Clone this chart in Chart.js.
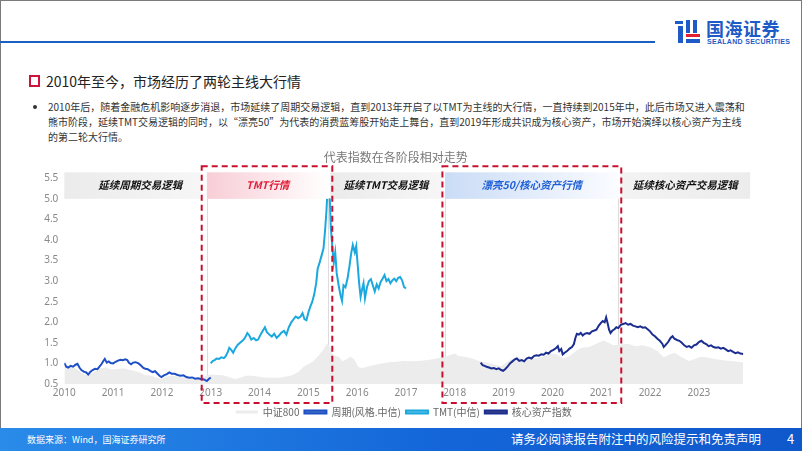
<!DOCTYPE html>
<html>
<head>
<meta charset="utf-8">
<script src="https://cdn.jsdelivr.net/npm/chart.js@4"></script>
<style>
  html, body { margin: 0; padding: 0; }
  body { width: 802px; height: 451px; position: relative; overflow: hidden; background: #fff;
         font-family: "Noto Sans CJK SC", "Noto Sans", sans-serif; }
  .frame { position: absolute; left: 0; top: 0; width: 800px; height: 451px; border: 1px solid #7a7a7a; border-bottom: none; box-sizing: content-box; }
  .topline { position: absolute; left: 0; top: 41px; width: 655px; height: 2px; background: #1c5fc2; }
  .logo-cn { position: absolute; left: 706px; top: 15px; font-size: 18px; line-height: 26px; font-weight: bold; color: #1e5bc6; letter-spacing: 0.5px; }
  .logo-en { position: absolute; left: 707px; top: 38px; font-family: "Liberation Sans", sans-serif; font-size: 7px; line-height: 8px; font-weight: bold; color: #1e5bc6; letter-spacing: 0.3px; }
  .logo-icon { position: absolute; left: 674px; top: 19px; }
  .sq { position: absolute; left: 29px; top: 75px; width: 7px; height: 8px; border: 2px solid #cf1239; }
  .heading { position: absolute; left: 46px; top: 71px; font-size: 14px; line-height: 20px; color: #222; white-space: nowrap; }
  .dot { position: absolute; left: 33px; top: 105px; width: 4px; height: 4px; border-radius: 50%; background: #333; }
  .body { position: absolute; left: 48px; top: 99px; font-size: 10px; line-height: 15px; color: #333; white-space: nowrap; }
  .footer { position: absolute; left: 0; top: 428px; width: 802px; height: 23px; background: linear-gradient(90deg, #2a8be9, #1466d8 55%, #0f58cc); }
  .src { position: absolute; left: 27px; top: 433px; font-size: 9px; line-height: 13px; color: #fff; }
  .disc { position: absolute; left: 511px; top: 430px; font-size: 12.5px; line-height: 18px; color: #fff; }
  .page { position: absolute; left: 787px; top: 430px; font-size: 13px; line-height: 18px; color: #fff; }
  canvas { position: absolute; left: 0; top: 0; }
</style>
</head>
<body>
<div class="frame"></div>
<div class="topline"></div>
<svg class="logo-icon" width="28" height="26" viewBox="0 0 28 26">
  <rect x="1" y="2" width="8" height="3" fill="#1e5bc6"/>
  <rect x="4" y="7" width="5" height="17" fill="#1e5bc6"/>
  <rect x="12" y="1" width="4" height="13" fill="#1e5bc6"/>
  <rect x="19" y="1" width="4" height="13" fill="#1e5bc6"/>
  <rect x="12" y="15" width="14" height="3" fill="#e0202e"/>
  <rect x="12" y="20" width="14" height="4" fill="#1e5bc6"/>
</svg>
<div class="logo-cn">国海证券</div>
<div class="logo-en">SEALAND SECURITIES</div>

<div class="sq"></div>
<div class="heading">2010年至今，市场经历了两轮主线大行情</div>
<div class="dot"></div>
<div class="body">2010年后，随着金融危机影响逐步消退，市场延续了周期交易逻辑，直到2013年开启了以TMT为主线的大行情，一直持续到2015年中，此后市场又进入震荡和<br>熊市阶段，延续TMT交易逻辑的同时，以“漂亮50”为代表的消费蓝筹股开始走上舞台，直到2019年形成共识成为核心资产，市场开始演绎以核心资产为主线<br>的第二轮大行情。</div>

<div class="footer"></div>
<div class="src">数据来源：Wind，国海证券研究所</div>
<div class="disc">请务必阅读报告附注中的风险提示和免责声明</div>
<div class="page">4</div>

<canvas id="chart" width="802" height="451"></canvas>

<script>
// 中证800 (relative, 2010 = 1)
const csiYears = [2010.00,2010.10,2010.20,2010.30,2010.42,2010.52,2010.62,2010.75,2010.85,2010.95,
  2011.07,2011.20,2011.30,2011.42,2011.55,2011.65,2011.78,2011.90,2012.00,2012.10,2012.20,2012.32,
  2012.45,2012.58,2012.70,2012.80,2012.90,2013.00,2013.12,2013.25,2013.40,2013.50,2013.60,2013.72,
  2013.85,2013.95,2014.10,2014.25,2014.40,2014.55,2014.68,2014.80,2014.90,2015.00,2015.10,2015.20,
  2015.30,2015.38,2015.44,2015.50,2015.56,2015.62,2015.70,2015.78,2015.86,2015.94,2016.02,2016.10,
  2016.20,2016.35,2016.50,2016.65,2016.80,2016.95,2017.10,2017.25,2017.40,2017.55,2017.70,2017.85,
  2018.00,2018.08,2018.20,2018.35,2018.50,2018.65,2018.80,2018.95,2019.10,2019.25,2019.40,2019.55,
  2019.70,2019.85,2019.95,2020.10,2020.22,2020.35,2020.50,2020.60,2020.75,2020.90,2021.05,2021.15,
  2021.25,2021.40,2021.55,2021.70,2021.85,2022.00,2022.15,2022.28,2022.40,2022.50,2022.65,2022.80,
  2022.90,2023.05,2023.20,2023.35,2023.50,2023.65,2023.80,2023.91];
const csiValues = [1.00,0.92,0.90,0.82,0.72,0.74,0.80,0.88,0.90,0.86,
  0.86,0.88,0.86,0.82,0.78,0.72,0.70,0.66,0.63,0.68,0.70,0.68,
  0.66,0.63,0.63,0.62,0.70,0.73,0.72,0.71,0.66,0.62,0.65,0.70,
  0.70,0.68,0.66,0.65,0.65,0.68,0.72,0.80,0.92,0.98,1.05,1.18,
  1.32,1.48,1.42,1.22,1.18,1.16,1.05,1.10,1.16,1.10,0.92,0.88,
  0.92,0.96,1.00,1.03,1.04,1.06,1.05,1.06,1.08,1.10,1.14,1.18,
  1.24,1.18,1.16,1.12,1.06,1.02,0.98,0.93,1.06,1.16,1.10,1.12,
  1.14,1.18,1.24,1.22,1.12,1.18,1.32,1.38,1.40,1.48,1.56,1.50,
  1.44,1.46,1.48,1.42,1.44,1.40,1.30,1.15,1.22,1.26,1.15,1.06,
  1.10,1.16,1.14,1.10,1.08,1.06,1.04,1.02];

// 周期(风格.中信)
const cycleYears = [2010.00,2010.04,2010.08,2010.13,2010.18,2010.23,2010.27,2010.31,2010.35,2010.40,
  2010.45,2010.49,2010.53,2010.58,2010.63,2010.68,2010.72,2010.76,2010.80,2010.83,2010.87,2010.91,
  2010.95,2011.00,2011.05,2011.10,2011.15,2011.20,2011.25,2011.29,2011.33,2011.37,2011.41,2011.46,
  2011.52,2011.57,2011.62,2011.66,2011.71,2011.76,2011.81,2011.86,2011.90,2011.95,2011.99,2012.04,
  2012.10,2012.15,2012.20,2012.26,2012.32,2012.38,2012.44,2012.50,2012.56,2012.62,2012.68,2012.74,
  2012.80,2012.86,2012.92,2012.96,2013.00];
const cycleValues = [1.01,0.92,0.90,0.94,0.92,0.97,0.99,0.90,0.84,0.80,
  0.78,0.73,0.79,0.84,0.87,0.86,0.92,0.98,1.06,1.11,1.02,1.05,
  1.01,1.00,1.04,1.07,1.09,1.08,1.10,1.08,1.01,0.98,1.02,1.03,
  1.00,0.95,0.89,0.87,0.86,0.82,0.79,0.81,0.76,0.70,0.67,0.71,
  0.74,0.78,0.75,0.75,0.72,0.70,0.71,0.67,0.65,0.66,0.63,0.64,
  0.62,0.61,0.57,0.62,0.66];

// TMT(中信)
const tmtYears = [2013.00,2013.04,2013.08,2013.12,2013.17,2013.22,2013.27,2013.31,2013.35,2013.38,
  2013.42,2013.46,2013.50,2013.55,2013.60,2013.65,2013.70,2013.75,2013.79,2013.83,2013.88,2013.93,
  2013.97,2014.02,2014.07,2014.11,2014.15,2014.20,2014.25,2014.30,2014.35,2014.40,2014.45,2014.50,
  2014.55,2014.60,2014.65,2014.70,2014.74,2014.79,2014.84,2014.88,2014.92,2014.96,2015.00,2015.04,
  2015.08,2015.12,2015.16,2015.19,2015.23,2015.27,2015.31,2015.34,2015.37,2015.40,2015.43,2015.46,
  2015.49,2015.52,2015.55,2015.58,2015.62,2015.66,2015.69,2015.72,2015.76,2015.80,2015.84,2015.88,
  2015.91,2015.95,2015.98,2016.01,2016.04,2016.07,2016.10,2016.13,2016.16,2016.20,2016.24,2016.28,
  2016.32,2016.36,2016.40,2016.44,2016.48,2016.52,2016.56,2016.60,2016.64,2016.68,2016.72,2016.76,
  2016.80,2016.84,2016.88,2016.92,2016.96,2017.00];
const tmtValues = [1.00,1.06,1.08,1.12,1.11,1.15,1.13,1.18,1.28,1.38,
  1.33,1.26,1.36,1.45,1.50,1.55,1.62,1.74,1.68,1.58,1.62,1.56,
  1.58,1.70,1.80,1.88,1.76,1.70,1.65,1.72,1.62,1.68,1.75,1.79,
  1.70,1.88,2.00,2.08,2.14,2.10,2.14,2.22,2.08,2.05,2.24,2.38,
  2.50,2.68,2.95,3.30,3.45,3.62,3.80,4.20,4.70,5.40,5.30,4.30,
  3.85,3.45,3.70,3.20,2.90,2.65,2.52,2.90,2.85,3.05,3.35,3.70,
  3.88,3.70,3.85,3.40,2.95,2.62,2.80,2.95,2.58,2.85,3.00,3.05,
  2.90,2.75,2.92,2.82,2.98,3.06,3.15,3.00,3.05,2.95,3.02,3.06,
  3.00,3.08,3.10,3.02,2.86,2.82];

// 核心资产指数
const coreYears = [2018.53,2018.57,2018.61,2018.65,2018.70,2018.75,2018.80,2018.85,2018.90,2018.95,
  2018.99,2019.03,2019.08,2019.13,2019.18,2019.23,2019.27,2019.32,2019.37,2019.42,2019.47,2019.52,
  2019.57,2019.62,2019.67,2019.72,2019.77,2019.82,2019.87,2019.92,2019.97,2020.02,2020.07,2020.11,
  2020.14,2020.18,2020.21,2020.25,2020.30,2020.35,2020.40,2020.44,2020.47,2020.50,2020.54,2020.58,
  2020.62,2020.66,2020.71,2020.76,2020.81,2020.86,2020.90,2020.95,2020.99,2021.03,2021.07,2021.10,
  2021.13,2021.16,2021.19,2021.23,2021.27,2021.31,2021.35,2021.40,2021.45,2021.50,2021.55,2021.60,
  2021.65,2021.70,2021.75,2021.80,2021.85,2021.90,2021.95,2022.00,2022.05,2022.10,2022.15,2022.20,
  2022.25,2022.28,2022.32,2022.37,2022.42,2022.46,2022.50,2022.55,2022.60,2022.65,2022.70,2022.75,
  2022.80,2022.85,2022.90,2022.95,2023.00,2023.05,2023.10,2023.15,2023.20,2023.25,2023.30,2023.35,
  2023.40,2023.45,2023.50,2023.55,2023.60,2023.65,2023.70,2023.75,2023.80,2023.85,2023.91];
const coreValues = [1.02,0.96,0.94,0.92,0.90,0.88,0.89,0.86,0.88,0.84,
  0.82,0.86,0.92,1.00,1.05,1.10,1.12,1.06,1.08,1.05,1.12,1.14,
  1.12,1.18,1.20,1.19,1.22,1.21,1.26,1.24,1.30,1.33,1.37,1.42,
  1.30,1.35,1.22,1.26,1.30,1.36,1.40,1.47,1.62,1.72,1.70,1.74,
  1.68,1.72,1.74,1.72,1.78,1.80,1.82,1.92,1.98,2.03,2.00,2.12,
  1.98,1.82,1.74,1.80,1.83,1.88,1.86,1.94,1.96,1.98,1.94,1.96,
  1.92,1.90,1.88,1.90,1.87,1.88,1.83,1.78,1.70,1.66,1.60,1.55,
  1.48,1.40,1.45,1.52,1.62,1.66,1.60,1.57,1.55,1.50,1.44,1.40,
  1.42,1.38,1.44,1.46,1.52,1.55,1.50,1.47,1.42,1.44,1.40,1.38,
  1.39,1.36,1.38,1.34,1.30,1.32,1.28,1.25,1.27,1.24,1.23];

// market phases (years)
const phaseLabels = ['延续周期交易逻辑', 'TMT行情', '延续TMT交易逻辑', '漂亮50/核心资产行情', '延续核心资产交易逻辑'];
const phaseStart = [2010.00, 2012.92, 2015.45, 2017.80, 2021.39];
const phaseEnd = [2012.78, 2015.41, 2017.73, 2021.35, 2024.05];
// highlighted main-line periods (red dashed frames)
const mainStart = [2012.815, 2017.746];
const mainEnd = [2015.49, 2021.41];

const yTicks = [0.5, 1.0, 1.5, 2.0, 2.5, 3.0, 3.5, 4.0, 4.5, 5.0, 5.5];

const phaseStyle = [
  { from: '#ebebeb', to: '#f6f6f6', text: '#111' },
  { from: '#f8cdd6', to: '#ffffff', text: '#e0203a' },
  { from: '#ebebeb', to: '#f6f6f6', text: '#111' },
  { from: '#cadcf6', to: '#fbfcff', text: '#1f5fd6' },
  { from: '#f3f3f3', to: '#ececec', text: '#111' }
];

const pts = (xs, ys) => xs.map((x, i) => ({ x: x, y: ys[i] }));

const phasePlugin = {
  id: 'phases',
  beforeDatasetsDraw(chart) {
    const { ctx, chartArea: a, scales: { x, y } } = chart;
    ctx.save();
    ctx.strokeStyle = '#dcdcdc';
    ctx.lineWidth = 1;
    [1, 3].forEach(i => {
      [phaseStart[i], phaseEnd[i]].forEach(v => {
        const px = Math.round(x.getPixelForValue(v)) + 0.5;
        ctx.beginPath();
        ctx.moveTo(px, y.getPixelForValue(5.0));
        ctx.lineTo(px, a.bottom);
        ctx.stroke();
      });
    });
    ctx.restore();
  },
  afterDatasetsDraw(chart) {
    const { ctx, chartArea: a, scales: { x, y } } = chart;
    const top = a.top - 6, bot = y.getPixelForValue(5.0);
    ctx.save();
    phaseLabels.forEach((label, i) => {
      const x0 = x.getPixelForValue(phaseStart[i]);
      const x1 = x.getPixelForValue(phaseEnd[i]);
      const g = ctx.createLinearGradient(x0, 0, x1, 0);
      g.addColorStop(0, phaseStyle[i].from);
      g.addColorStop(1, phaseStyle[i].to);
      ctx.fillStyle = g;
      ctx.fillRect(x0, top, x1 - x0, bot - top);
      ctx.fillStyle = phaseStyle[i].text;
      ctx.font = 'italic bold 10.5px "Noto Sans CJK SC"';
      ctx.textAlign = 'center';
      ctx.textBaseline = 'middle';
      ctx.fillText(label, (x0 + x1) / 2 + (i === 0 ? 8 : 0), (top + bot) / 2 - 1);
    });
    ctx.restore();
  },
  afterDraw(chart) {
    const { ctx, chartArea: a, scales: { x } } = chart;
    ctx.save();
    // red dashed frames for the two main-line periods
    ctx.strokeStyle = '#c8102e';
    ctx.lineWidth = 2;
    ctx.setLineDash([6, 4]);
    mainStart.forEach((s, i) => {
      const x0 = x.getPixelForValue(s), x1 = x.getPixelForValue(mainEnd[i]);
      ctx.strokeRect(x0, a.top - 12, x1 - x0, a.bottom + 19 - (a.top - 12));
    });
    ctx.setLineDash([]);
    // chart title
    ctx.fillStyle = '#777';
    ctx.font = '12px "Noto Sans CJK SC"';
    ctx.textAlign = 'center';
    ctx.textBaseline = 'middle';
    ctx.fillText('代表指数在各阶段相对走势', (a.left + a.right) / 2 - 8, 157);
    ctx.restore();
  }
};

new Chart(document.getElementById('chart'), {
  type: 'line',
  data: {
    datasets: [
      { label: '中证800', data: pts(csiYears, csiValues), borderWidth: 0, borderColor: '#ececec',
        backgroundColor: '#ececec', fill: 'start', pointRadius: 0, order: 10 },
      { label: '周期(风格.中信)', data: pts(cycleYears, cycleValues), borderColor: '#1f4fc6',
        backgroundColor: '#4a76c0', borderWidth: 2, pointRadius: 0, fill: false, order: 1 },
      { label: 'TMT(中信)', data: pts(tmtYears, tmtValues), borderColor: '#1ba8de',
        backgroundColor: '#62c3e6', borderWidth: 2, pointRadius: 0, fill: false, order: 1,
        clip: { left: 0, top: -20, right: 0, bottom: 0 } },
      { label: '核心资产指数', data: pts(coreYears, coreValues), borderColor: '#1b2d8f',
        backgroundColor: '#3d4a82', borderWidth: 2, pointRadius: 0, fill: false, order: 1 }
    ]
  },
  options: {
    responsive: false,
    animation: false,
    devicePixelRatio: 1,
    layout: { padding: { left: 30, right: 58.7, top: 178.3, bottom: 24 } },
    plugins: {
      legend: {
        position: 'bottom',
        fullSize: false,
        labels: { boxWidth: 22, boxHeight: 3, padding: 5, color: '#666',
                  font: { size: 10, family: '"Noto Sans CJK SC"' },
                  sort: (a, b) => a.datasetIndex - b.datasetIndex }
      },
      tooltip: { enabled: false }
    },
    scales: {
      x: {
        type: 'linear', min: 2010, max: 2023.91,
        grid: { display: false, tickLength: 0 }, border: { display: false },
        ticks: { stepSize: 1, includeBounds: false, autoSkip: false, maxRotation: 0, padding: 3,
                 color: '#888', font: { size: 10, family: '"Noto Sans"' },
                 callback: v => String(v) },
        afterFit: s => { s.height = 18; }
      },
      y: {
        min: 0.5, max: 5.5,
        afterBuildTicks: s => { s.ticks = yTicks.map(v => ({ value: v })); },
        grid: { display: false, tickLength: 0 }, border: { display: false },
        ticks: { padding: 6, color: '#888', font: { size: 10, family: '"Noto Sans"' },
                 callback: v => Number(v).toFixed(1) },
        afterFit: s => { s.width = 34.3; }
      }
    }
  },
  plugins: [phasePlugin]
});
</script>
</body>
</html>
